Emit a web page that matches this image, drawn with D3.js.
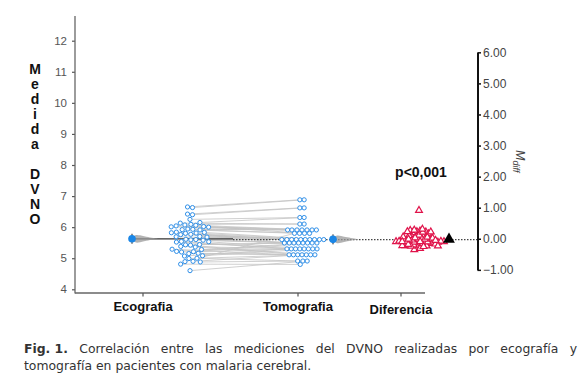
<!DOCTYPE html>
<html>
<head>
<meta charset="utf-8">
<script src="https://cdn.jsdelivr.net/npm/d3@7"></script>
<style>
  body { margin: 0; background: #fff; }
  svg { display: block; }
</style>
</head>
<body>
<div id="chart"></div>
<script>
const ecografia = [6.65, 6.63, 6.42, 6.40, 6.25, 6.15, 6.13, 6.09, 6.07, 6.06, 6.04, 6.02, 6.01, 6.00,
  5.94, 5.93, 5.92, 5.91, 5.84, 5.83, 5.82, 5.81, 5.80, 5.77, 5.76, 5.70, 5.69, 5.68, 5.61, 5.60,
  5.59, 5.58, 5.54, 5.53, 5.52, 5.44, 5.43, 5.42, 5.38, 5.36, 5.29, 5.28, 5.22, 5.21, 5.20, 5.16,
  5.15, 5.08, 5.07, 5.00, 4.99, 4.90, 4.89, 4.88, 4.81, 4.60];
const tomografia = [6.88, 6.88, 6.62, 6.62, 6.31, 6.31, 6.10, 6.10, 5.80, 5.91, 5.91, 5.91, 5.91, 5.91,
  5.91, 5.91, 5.80, 5.80, 5.49, 5.60, 5.60, 5.60, 5.60, 5.60, 5.60, 5.60, 5.60, 5.60, 5.60, 5.49,
  5.49, 5.49, 5.30, 5.30, 5.30, 5.49, 5.49, 5.11, 5.30, 5.11, 5.11, 5.30, 5.49, 5.49, 5.30, 5.11,
  5.11, 5.30, 5.30, 4.91, 5.11, 5.11, 5.80, 4.91, 4.80, 4.91];
const categories = ['Ecografia', 'Tomografia', 'Diferencia'];
const yTicks = [4, 5, 6, 7, 8, 9, 10, 11, 12];
const diffTicks = [-1, 0, 1, 2, 3, 4, 5, 6];
const pText = 'p<0,001';
const yTitle = 'Medida DVNO';

const W = 585, H = 375;
const FONT = '"Liberation Sans", Arimo, Arial, sans-serif';
const svg = d3.select('#chart').append('svg').attr('width', W).attr('height', H);

const diferencia = tomografia.map((t, i) => +(t - ecografia[i]).toFixed(2));
const ecoMean = d3.mean(ecografia);
const tomoMean = d3.mean(tomografia);
const diffMean = d3.mean(diferencia);

const y = d3.scaleLinear().domain([4, 12]).range([289.3, 40.7]);
const yR = d3.scaleLinear().domain([-1, 6]).range([y(ecoMean - 1), y(ecoMean + 6)]);
const x = d3.scaleOrdinal().domain(categories).range([143, 298, 401]);

// swarm: y fixed at the value, x pulled to the centre, no overlap
const swarm = (ys, cx, r, pull) => {
  const nodes = ys.map((v, i) => ({ x: cx + ((i % 2) ? 1 : -1) * (i % 7), fy: v, y: v }));
  const sim = d3.forceSimulation(nodes)
    .force('x', d3.forceX(cx).strength(pull))
    .force('c', d3.forceCollide(r).iterations(3))
    .stop();
  for (let k = 0; k < 300; k += 1) sim.tick();
  return nodes.map(n => n.x);
};

const ecoY = ecografia.map(v => y(v));
const tomoY = tomografia.map(v => y(v));
const diffY = diferencia.map(v => yR(v));
const ecoX = swarm(ecoY, x('Ecografia') + 47, 2.5, 0.08);
const tomoX = swarm(tomoY, x('Tomografia') + 4, 2.15, 0.08);
const diffX = swarm(diffY, x('Diferencia') + 18, 1.55, 0.12);

// axes
const gL = svg.append('g').attr('transform', 'translate(75,0)');
gL.call(d3.axisLeft(y).tickValues(yTicks).tickSize(3).tickPadding(5).tickFormat(d3.format('d')));
gL.select('.domain').remove();
gL.selectAll('.tick line').attr('stroke', '#555').attr('stroke-width', 1.2);
gL.selectAll('.tick text').attr('fill', '#555').attr('font-family', FONT).attr('font-size', 11.5);
svg.append('line').attr('x1', 75).attr('x2', 75).attr('y1', 16).attr('y2', 293.5)
  .attr('stroke', '#666').attr('stroke-width', 1.3);
svg.append('line').attr('x1', 75).attr('x2', 425).attr('y1', 293).attr('y2', 293)
  .attr('stroke', '#666').attr('stroke-width', 1.3);
categories.forEach(c => {
  svg.append('line').attr('x1', x(c)).attr('x2', x(c)).attr('y1', 293).attr('y2', 296.5)
    .attr('stroke', '#555').attr('stroke-width', 1.2);
  svg.append('text').attr('x', x(c)).attr('y', c === 'Diferencia' ? 314 : 311)
    .attr('text-anchor', 'middle').attr('fill', '#111')
    .attr('font-family', FONT).attr('font-weight', 'bold').attr('font-size', 13).text(c);
});

const gR = svg.append('g').attr('transform', 'translate(477.5,0)');
gR.call(d3.axisRight(yR).tickValues(diffTicks).tickSize(3.5).tickSizeOuter(0).tickPadding(2)
  .tickFormat(d3.format('.2f')));
gR.select('.domain').attr('stroke', '#111').attr('stroke-width', 2);
gR.selectAll('.tick line').attr('stroke', '#111').attr('stroke-width', 1.5);
gR.selectAll('.tick text').attr('fill', '#444').attr('font-family', FONT).attr('font-size', 12);

svg.append('text').attr('transform', 'translate(516,150) rotate(90)')
  .attr('fill', '#444').attr('font-family', FONT).attr('font-style', 'italic').attr('font-size', 12.5)
  .call(t => t.append('tspan').text('M'))
  .call(t => t.append('tspan').attr('dy', 3).attr('font-size', 9).text('diff'));

// y title, one letter per line
const tt = svg.append('text').attr('fill', '#111').attr('font-family', FONT)
  .attr('font-weight', 'bold').attr('font-size', 14).attr('text-anchor', 'middle');
yTitle.split('').forEach((ch, i) => {
  tt.append('tspan').attr('x', 35).attr('y', 74 + i * 15).text(ch === ' ' ? '\u00a0' : ch);
});

// paired lines
svg.append('g').selectAll('line').data(ecografia).join('line')
  .attr('x1', (d, i) => ecoX[i]).attr('y1', (d, i) => ecoY[i])
  .attr('x2', (d, i) => tomoX[i]).attr('y2', (d, i) => tomoY[i])
  .attr('stroke', '#c4c4c4').attr('stroke-width', 0.8);

// reference lines through the means
svg.append('line').attr('x1', x('Ecografia') - 11).attr('x2', 233)
  .attr('y1', y(ecoMean)).attr('y2', y(ecoMean)).attr('stroke', '#333').attr('stroke-width', 1.2);
svg.append('line').attr('x1', 233).attr('x2', 477).attr('y1', yR(0) + 0.8).attr('y2', yR(0) + 0.8)
  .attr('stroke', '#444').attr('stroke-width', 1.2).attr('stroke-dasharray', '1.5,1.5');

// mean markers with their spread tail
const tail = (cx, cy) => {
  const pts = [[0, 0], [3, 4.5], [8, 3.5], [14, 2], [22, 0.6], [26, 0]];
  const area = d3.area().x(p => cx + p[0]).y0(p => cy - p[1]).y1(p => cy + p[1]).curve(d3.curveBasis);
  svg.append('path').attr('d', area(pts)).attr('fill', '#9a9a9a').attr('opacity', 0.75);
};
tail(x('Ecografia') - 11, y(ecoMean));
tail(x('Tomografia') + 35, y(tomoMean));

// points
svg.append('g').selectAll('circle').data(ecografia).join('circle')
  .attr('cx', (d, i) => ecoX[i]).attr('cy', (d, i) => ecoY[i]).attr('r', 2.1)
  .attr('fill', '#fff').attr('stroke', '#2f8fe8').attr('stroke-width', 1);
svg.append('g').selectAll('circle').data(tomografia).join('circle')
  .attr('cx', (d, i) => tomoX[i]).attr('cy', (d, i) => tomoY[i]).attr('r', 2.1)
  .attr('fill', '#fff').attr('stroke', '#2f8fe8').attr('stroke-width', 1);
const tri = d3.symbol().type(d3.symbolTriangle);
svg.append('g').selectAll('path').data(diferencia).join('path')
  .attr('d', tri.size(20)())
  .attr('transform', (d, i) => `translate(${diffX[i]},${diffY[i]})`)
  .attr('fill', '#fff').attr('stroke', '#e0134a').attr('stroke-width', 1.2);

[[x('Ecografia') - 11, y(ecoMean)], [x('Tomografia') + 35, y(tomoMean)]].forEach(([cx, cy]) => {
  svg.append('line').attr('x1', cx).attr('x2', cx).attr('y1', cy - 5).attr('y2', cy + 5)
    .attr('stroke', '#222').attr('stroke-width', 1);
  svg.append('circle').attr('cx', cx).attr('cy', cy).attr('r', 3.8).attr('fill', '#1a86e6');
});
svg.append('path').attr('d', tri.size(60)())
  .attr('transform', `translate(${x('Diferencia') + 48},${yR(diffMean)})`).attr('fill', '#000');

svg.append('text').attr('x', 421).attr('y', 177).attr('text-anchor', 'middle').attr('fill', '#111')
  .attr('font-family', FONT).attr('font-weight', 'bold').attr('font-size', 14).text(pText);

// caption, first line justified
const line1 = ['Fig. 1.', 'Correlación', 'entre', 'las', 'mediciones', 'del', 'DVNO', 'realizadas', 'por', 'ecografía', 'y'];
const cap = svg.append('g').attr('fill', '#333')
  .attr('font-family', '"DejaVu Sans", Verdana, sans-serif').attr('font-size', 12.4);
const words = line1.map((w, i) => cap.append('text').attr('y', 353)
  .attr('font-weight', i === 0 ? 'bold' : 'normal').text(w));
const widths = words.map(t => t.node().getComputedTextLength());
const gap = (577 - 24 - d3.sum(widths)) / (words.length - 1);
let cx = 24;
words.forEach((t, i) => { t.attr('x', cx); cx += widths[i] + gap; });
cap.append('text').attr('x', 24).attr('y', 370).text('tomografía en pacientes con malaria cerebral.');
</script>
</body>
</html>
